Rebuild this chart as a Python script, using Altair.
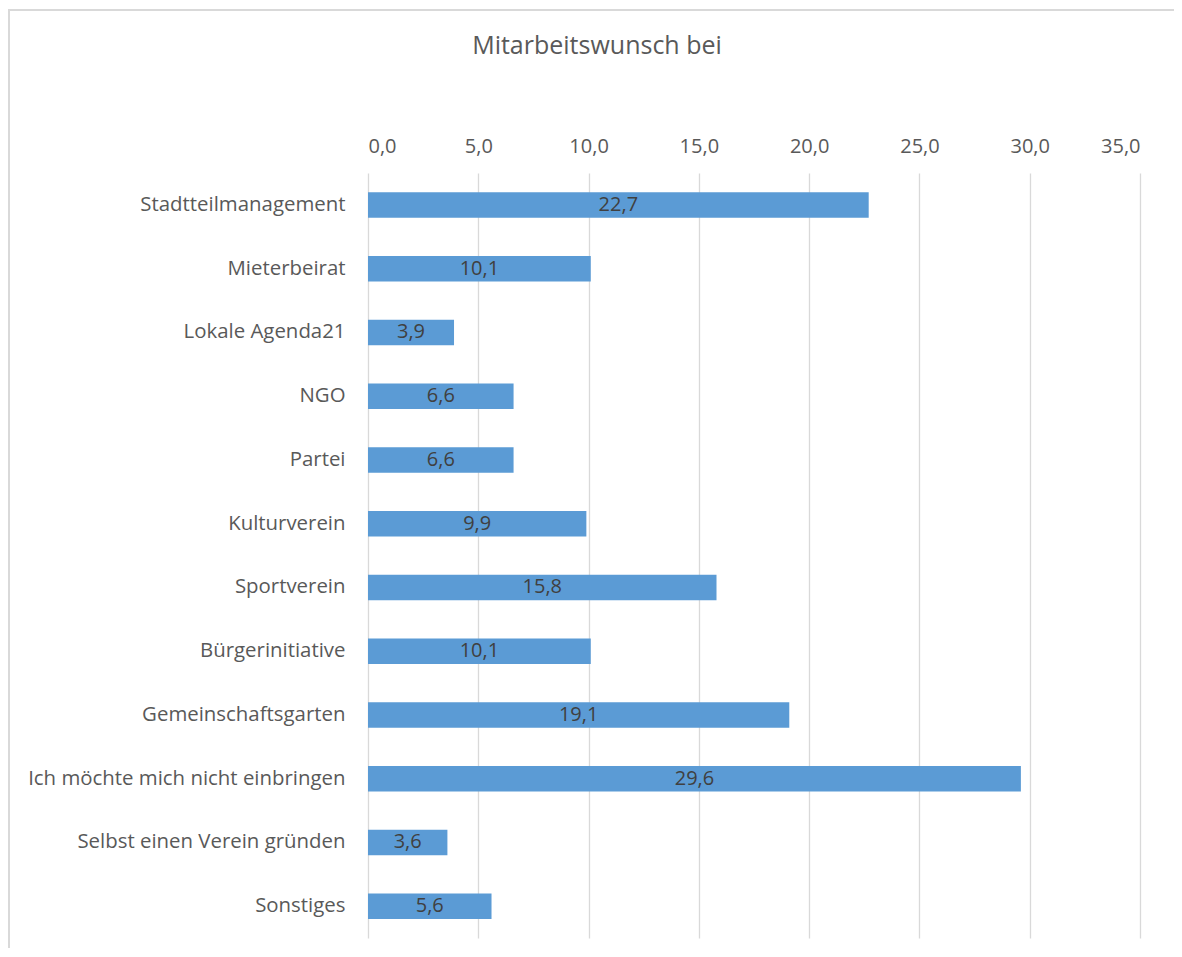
import altair as alt
import pandas as pd

categories = [
    "Stadtteilmanagement",
    "Mieterbeirat",
    "Lokale Agenda21",
    "NGO",
    "Partei",
    "Kulturverein",
    "Sportverein",
    "Bürgerinitiative",
    "Gemeinschaftsgarten",
    "Ich möchte mich nicht einbringen",
    "Selbst einen Verein gründen",
    "Sonstiges",
]
values = [22.7, 10.1, 3.9, 6.6, 6.6, 9.9, 15.8, 10.1, 19.1, 29.6, 3.6, 5.6]
x_ticks = [0, 5, 10, 15, 20, 25, 30, 35]

df = pd.DataFrame({"Kategorie": categories, "Wert": values})

FONT = "Open Sans"
GREY = "#595959"
FS = 20

base = alt.Chart(df)

y_enc = alt.Y(
    "Kategorie:N",
    sort=None,
    scale=alt.Scale(paddingInner=0.6, paddingOuter=0.3),
    axis=alt.Axis(
        title=None, ticks=False, domain=False, grid=False,
        labelPadding=23, labelFontSize=20.4, labelColor=GREY, labelFont=FONT,
        labelLimit=400,
    ),
)

bars = base.mark_bar(color="#5B9BD5").encode(
    x=alt.X(
        "Wert:Q",
        scale=alt.Scale(domain=[0, 35], nice=False),
        axis=alt.Axis(
            orient="top", title=None, values=x_ticks, ticks=False, domain=False,
            grid=True, gridColor="#D9D9D9", gridWidth=1.3,
            labelFontSize=FS, labelColor=GREY, labelFont=FONT, labelPadding=17,
            labelExpr="replace(format(datum.value, '.1f'), '.', ',')",
        ),
    ),
    y=y_enc,
)

labels = base.transform_calculate(
    mid="datum.Wert / 2",
    txt="replace(format(datum.Wert, '.1f'), '.', ',')",
).mark_text(
    align="center", baseline="middle", fontSize=FS, font=FONT, color="#404040"
).encode(
    x=alt.X("mid:Q"),
    y=alt.Y("Kategorie:N", sort=None),
    text="txt:N",
)

left_border = base.mark_rule(color="#D9D9D9", strokeWidth=2).encode(
    x=alt.value(-359), y=alt.value(-163), y2=alt.value(790)
)
top_border = base.mark_rule(color="#D9D9D9", strokeWidth=2).encode(
    y=alt.value(-163), x=alt.value(-360), x2=alt.value(840)
)

chart = alt.layer(left_border, top_border, bars, labels).properties(
    width=772,
    height=765,
    autosize=alt.AutoSizeParams(type="none"),
    padding={"left": 360, "top": 165, "right": 34, "bottom": 10},
    title=alt.TitleParams(
        "Mitarbeitswunsch bei", fontSize=25, font=FONT, fontWeight="normal",
        color=GREY, anchor="middle", frame="bounds", offset=0, dy=50, dx=-11,
    ),
).configure_view(stroke=None)

chart.save("out.html", embed_options={"renderer": "svg", "actions": False})
